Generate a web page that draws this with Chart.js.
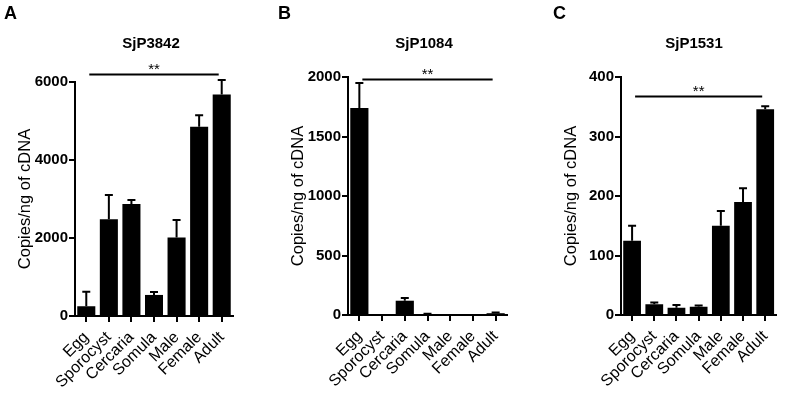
<!DOCTYPE html>
<html><head><meta charset="utf-8">
<script src="https://cdn.jsdelivr.net/npm/chart.js@4"></script>
<style>
body{margin:0;background:#fff;width:785px;height:393px;overflow:hidden;position:relative;font-family:"Liberation Sans",Arial,sans-serif;color:#000}
.cv{position:absolute;top:0}
.lt{position:absolute;font-weight:bold;font-size:18px;line-height:20px}
.tt{position:absolute;font-weight:bold;font-size:15px;line-height:20px;top:33px;text-align:center;width:120px}
</style></head><body>
<canvas id="cA" class="cv" width="262" height="393" style="left:0"></canvas>
<canvas id="cB" class="cv" width="262" height="393" style="left:262px"></canvas>
<canvas id="cC" class="cv" width="261" height="393" style="left:524px"></canvas>
<div class="lt" style="left:4px;top:3px">A</div>
<div class="lt" style="left:278px;top:3px">B</div>
<div class="lt" style="left:553px;top:3px">C</div>
<div class="tt" style="left:91px">SjP3842</div>
<div class="tt" style="left:364px">SjP1084</div>
<div class="tt" style="left:634px">SjP1531</div>
<script>
const categories = ['Egg','Sporocyst','Cercaria','Somula','Male','Female','Adult'];

const valuesA = [250, 2480, 2870, 540, 2010, 4850, 5680];
const errorsA = [370, 620, 105, 75, 450, 300, 370];
const valuesB = [1740, 0, 120, 8, 2, 3, 15];
const errorsB = [210, 0, 22, 3, 0, 0, 5];
const valuesC = [125, 18, 12, 14, 150, 190, 346];
const errorsC = [25, 3, 5, 2, 25, 23, 5];

const yMaxes = [6000, 2000, 400];
const ySteps = [2000, 500, 100];
const sigLevels = [6200, 1985, 368];
const sigLabel = '**';
const yTitle = 'Copies/ng of cDNA';

const FONT = '"Liberation Sans", Arial, sans-serif';

const errPlugin = {
  id: 'err',
  afterDatasetsDraw(chart) {
    const ctx = chart.ctx;
    const ds = chart.data.datasets[0];
    const meta = chart.getDatasetMeta(0);
    const y = chart.scales.y;
    ctx.save();
    ctx.strokeStyle = '#000';
    ctx.lineWidth = 2;
    meta.data.forEach((bar, i) => {
      const e = ds.errors[i];
      if (!e) return;
      const y0 = y.getPixelForValue(ds.data[i]);
      const y1 = y.getPixelForValue(ds.data[i] + e);
      ctx.beginPath();
      ctx.moveTo(bar.x, y0);
      ctx.lineTo(bar.x, y1);
      ctx.moveTo(bar.x - 4, y1);
      ctx.lineTo(bar.x + 4, y1);
      ctx.stroke();
    });
    // significance line
    const x = chart.scales.x;
    const sy = Math.round(y.getPixelForValue(ds.sig)) + 0.5;
    const xa = x.getPixelForValue(0) + 3;
    const xb = x.getPixelForValue(categories.length - 1) - 3;
    ctx.lineWidth = 1.8;
    ctx.beginPath();
    ctx.moveTo(xa, sy);
    ctx.lineTo(xb, sy);
    ctx.stroke();
    ctx.fillStyle = '#000';
    ctx.font = '15px ' + FONT;
    ctx.textAlign = 'center';
    ctx.textBaseline = 'alphabetic';
    ctx.fillText(sigLabel, (xa + xb) / 2, sy - 1);
    ctx.restore();
  }
};

function makeChart(id, values, errors, idx, yW, top, right, titlePad) {
  return new Chart(document.getElementById(id), {
    type: 'bar',
    data: {
      labels: categories,
      datasets: [{
        data: values,
        errors: errors,
        sig: sigLevels[idx],
        backgroundColor: '#000',
        borderWidth: 0,
        barPercentage: 0.8,
        categoryPercentage: 1
      }]
    },
    options: {
      responsive: false,
      animation: false,
      layout: { padding: { left: 0, top: top, right: right, bottom: 0 } },
      plugins: { legend: { display: false }, tooltip: { enabled: false }, title: { display: false } },
      scales: {
        x: {
          grid: { display: true, drawOnChartArea: false, offset: false, tickLength: 6, lineWidth: 2, color: '#000' },
          border: { display: true, color: '#000', width: 2 },
          ticks: { color: '#000', font: { family: FONT, size: 16 }, minRotation: 45, maxRotation: 45, autoSkip: false, padding: 6 },
          afterFit(s) { s.height = 77 + (idx === 0 ? 0 : 1); }
        },
        y: {
          min: 0, max: yMaxes[idx],
          ticks: { stepSize: ySteps[idx], color: '#000', font: { family: FONT, size: 15, weight: 'bold' }, padding: 1,
                   callback: v => String(v) },
          grid: { display: true, drawOnChartArea: false, tickLength: 6, lineWidth: 2, color: '#000' },
          border: { display: true, color: '#000', width: 2 },
          title: { display: true, text: yTitle, color: '#000', font: { family: FONT, size: 16.5 }, padding: { top: titlePad, bottom: 0 } },
          afterFit(s) { s.width = yW; }
        }
      }
    },
    plugins: [errPlugin]
  });
}

makeChart('cA', valuesA, errorsA, 0, 75, 82, 29, 16);
makeChart('cB', valuesB, errorsB, 1, 86, 77, 17, 27);
makeChart('cC', valuesC, errorsC, 2, 97, 77, 3, 38);
</script>
</body></html>
